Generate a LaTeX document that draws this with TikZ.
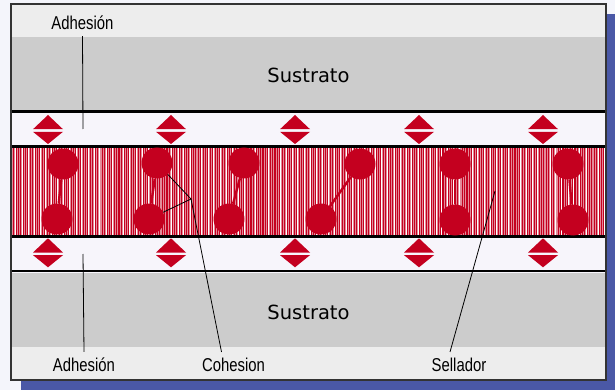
\documentclass[tikz,border=0pt]{standalone}
\usepackage{fontspec}
\setmainfont{Liberation Sans}
\newfontfamily\subfont{DejaVu Sans}
\newfontfamily\narrowfont[FakeStretch=0.8]{Liberation Sans}
\definecolor{pagebg}{HTML}{F4F5FB}
\definecolor{shadowblue}{HTML}{4A58A6}
\definecolor{bandgray}{HTML}{EDEDED}
\definecolor{subgray}{HTML}{CCCCCC}
\definecolor{gapwhite}{HTML}{F7F5FB}
\definecolor{sellred}{HTML}{C4001F}
\definecolor{sellpink}{HTML}{E38A99}
\tikzset{
  lbl/.style={font=\narrowfont\fontsize{18.6}{20}\selectfont, inner sep=6pt},
  subtext/.style={font=\subfont\fontsize{19.5}{22}\selectfont},
  mol/.style={circle, fill=sellred, minimum size=31pt, inner sep=0pt},
  bond/.style={draw=sellred, line width=2.4pt},
  leader/.style={draw=black, line width=0.8pt},
  bondline/.style={line width=2.8pt}
}
% pair of adhesion arrows centred at (x,y)
\newcommand{\adharrows}[2]{%
  \fill[sellred] (#1-15,#2-1.3) -- (#1,#2-15.5) -- (#1+15,#2-1.3) -- cycle;
  \fill[sellred] (#1-15,#2+1.3) -- (#1,#2+13.5) -- (#1+15,#2+1.3) -- cycle;}
\begin{document}
\begin{tikzpicture}[x=1pt, y=-1pt]
  \useasboundingbox (0,0) rectangle (615,390);
  \fill[pagebg] (0,0) rectangle (615,390);
  \fill[shadowblue] (21,14) rectangle (615,390);
  % layers
  \fill[bandgray] (11,4) rectangle (606,380);
  \fill[subgray] (11,37) rectangle (606,110.5);
  \fill[gapwhite] (11,110.5) rectangle (606,148);
  \fill[gapwhite] (11,235.5) rectangle (606,272.5);
  \fill[subgray] (11,272.5) rectangle (606,347);
  % sealant stripes
  \begin{scope}
    \clip (11,148) rectangle (606,235.5);
    \fill[white] (11,148) rectangle (606,235.5);
    \pgfmathsetseed{11}
    \foreach \i in {0,...,248} {
      \pgfmathsetmacro\w{0.3+1.0*rnd}
      \pgfmathsetmacro\v{0.4+0.8*rnd}
      \draw[sellred, line width=\w pt] (11+2.4*\i,148) -- (11+2.4*\i,235.5);
      \draw[sellpink, line width=\v pt] (12.2+2.4*\i,148) -- (12.2+2.4*\i,235.5);
    }
  \end{scope}
  \foreach \y in {111.7,146.7,236.8,271} {
    \draw[bondline] (11,\y) -- (606,\y);
  }
  % adhesion arrows
  \foreach \x in {48,171,295,419,543} {
    \adharrows{\x}{130.5}
    \adharrows{\x}{253.8}
  }
  % molecules
  \node[mol] (m1a) at (63,164) {};
  \node[mol] (m1b) at (57,219) {};
  \node[mol] (m2a) at (157,163) {};
  \node[mol] (m2b) at (149,219) {};
  \node[mol] (m3a) at (244,163) {};
  \node[mol] (m3b) at (229,219) {};
  \node[mol] (m4a) at (360,164) {};
  \node[mol] (m4b) at (321,219) {};
  \node[mol] (m5a) at (455,164) {};
  \node[mol] (m5b) at (455,220) {};
  \node[mol] (m6a) at (568,164) {};
  \node[mol] (m6b) at (573,220) {};
  \foreach \m in {1,...,6} {
    \draw[bond] (m\m a) -- (m\m b);
  }
  % labels
  \node[subtext] (subtop) at (308.5,75) {Sustrato};
  \node[subtext] (subbot) at (308.5,312) {Sustrato};
  \node[lbl] (adhtop) at (82.5,23) {Adhesión};
  \node[lbl] (adhbot) at (84,365) {Adhesión};
  \node[lbl] (coh) at (233.5,365) {Cohesion};
  \node[lbl] (sell) at (459,365) {Sellador};
  % leaders
  \coordinate (adhA) at (83,129);
  \coordinate (adhB) at (83,254);
  \coordinate (cohJ) at (191,199);
  \coordinate (sellP) at (495,191);
  \draw[leader] (adhtop.south) -- (adhA);
  \draw[leader] (adhB) -- (adhbot.north);
  \draw[leader] (m2a) -- (cohJ) -- (m2b);
  \draw[leader] (cohJ) -- ([xshift=-12pt]coh.north);
  \draw[leader] (sellP) -- ([xshift=-9pt]sell.north);
  % frame
  \draw[black!80, line width=1.5pt] (11,4) rectangle (606,380);
\end{tikzpicture}
\end{document}
